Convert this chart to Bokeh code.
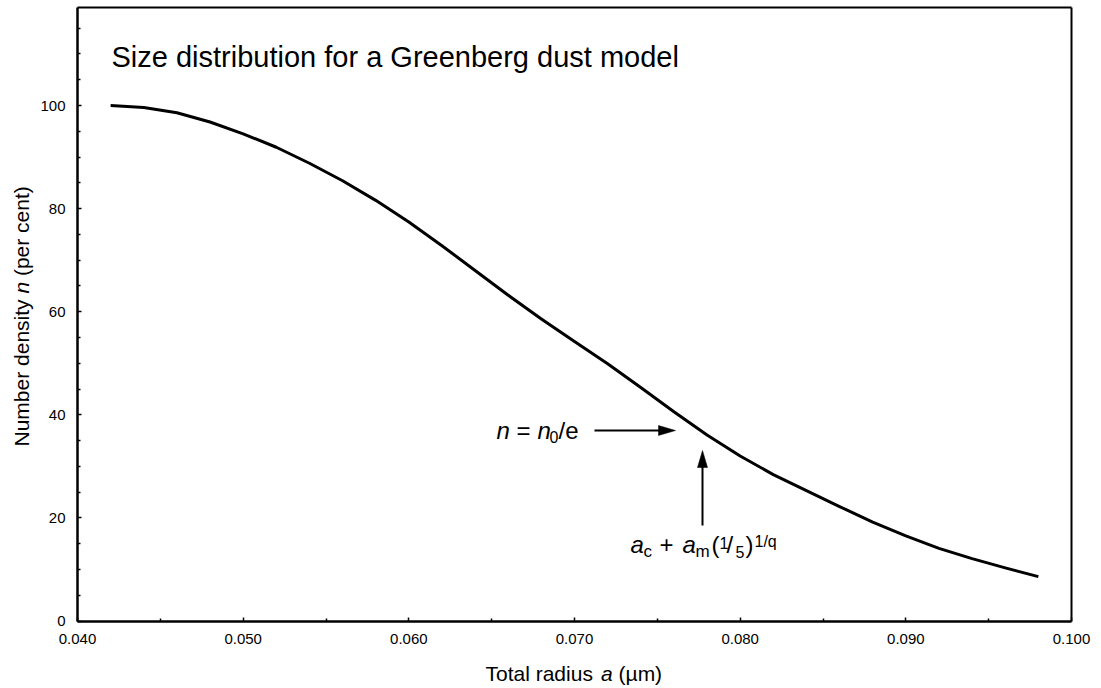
from bokeh.plotting import figure
from bokeh.models import Range1d, FixedTicker, Label, NumeralTickFormatter, LinearAxis
from bokeh.embed import file_html
from bokeh.resources import INLINE
import math

# ---------------- data ----------------
radius = [0.042, 0.044, 0.046, 0.048, 0.050, 0.052, 0.054, 0.056, 0.058, 0.060,
          0.062, 0.064, 0.066, 0.068, 0.070, 0.072, 0.074, 0.076, 0.078, 0.080,
          0.082, 0.084, 0.086, 0.088, 0.090, 0.092, 0.094, 0.096, 0.098]
density = [100.0, 99.6, 98.6, 96.8, 94.5, 91.9, 88.8, 85.4, 81.6, 77.4,
           72.8, 68.0, 63.2, 58.6, 54.2, 49.9, 45.3, 40.6, 36.1, 32.0,
           28.4, 25.3, 22.2, 19.2, 16.5, 14.1, 12.1, 10.3, 8.6]

x_ticks = [0.040, 0.050, 0.060, 0.070, 0.080, 0.090, 0.100]
x_minor = [0.045, 0.055, 0.065, 0.075, 0.085, 0.095]
y_ticks = [0, 20, 40, 60, 80, 100]
y_minor = [5, 10, 15, 25, 30, 35, 45, 50, 55, 65, 70, 75, 85, 90, 95, 105, 110, 115]

x_lo, x_hi = 0.040, 0.100
y_lo, y_hi = 0, 119

title_text = "Size distribution for a Greenberg dust model"

# ---------------- layout (pixels) ----------------
FONT = "Liberation Sans"
W, H = 1101, 688
PL, PR = 77, 1071          # x pixel of x_lo / x_hi
PB, P100 = 620.5, 105      # y pixel of 0 / 100
SX = (PR - PL) / (x_hi - x_lo)
SY = (PB - P100) / 100.0
BASE_FIX = 0.34            # label baseline correction (fraction of font size)


def ax(px):
    return x_lo + (px - PL) / SX


def ay(py):
    return (PB - py) / SY


p = figure(width=W, height=H, output_backend="svg", toolbar_location=None,
           x_range=Range1d(ax(0), ax(W)), y_range=Range1d(ay(H), ay(0)),
           min_border=0)
p.background_fill_color = "white"
p.border_fill_color = "white"
p.xgrid.visible = False
p.ygrid.visible = False
p.outline_line_color = None

xa, ya = p.xaxis[0], p.yaxis[0]
xa.fixed_location = y_lo
ya.fixed_location = x_lo
xa.bounds = (x_lo, x_hi)
ya.bounds = (y_lo, y_hi)

for axis in (xa, ya):
    axis.axis_line_width = 2.5
    axis.axis_line_color = "black"
    axis.major_tick_in = 4
    axis.major_tick_out = 0
    axis.minor_tick_in = 3
    axis.minor_tick_out = 0
    axis.major_tick_line_width = 1.5
    axis.minor_tick_line_width = 1.5
    axis.major_tick_line_color = "black"
    axis.minor_tick_line_color = "black"
    axis.major_label_text_font = FONT
    axis.major_label_text_font_size = "15px"
    axis.major_label_text_color = "black"

xa.ticker = FixedTicker(ticks=x_ticks, minor_ticks=x_minor)
xa.formatter = NumeralTickFormatter(format="0.000")
xa.major_label_standoff = 13
ya.ticker = FixedTicker(ticks=y_ticks, minor_ticks=y_minor)
ya.major_label_standoff = 12

# top and right frame lines as bare axes
for place, loc, bnds, lw in (("above", y_hi, (x_lo, x_hi), 1.8),
                             ("right", x_hi, (y_lo, y_hi), 2.0)):
    b = LinearAxis(fixed_location=loc, bounds=bnds,
                   ticker=FixedTicker(ticks=[], minor_ticks=[]),
                   axis_line_width=lw, axis_line_color="black",
                   major_tick_line_color=None, minor_tick_line_color=None,
                   major_label_text_font_size="0px")
    p.add_layout(b, place)

# ---------------- curve ----------------
p.line(radius, density, line_width=3, line_color="black", line_join="round")


def lab(px, py, text, size, style="normal", angle=0.0):
    if angle:
        px = px - BASE_FIX * size
    else:
        py = py - BASE_FIX * size
    p.add_layout(Label(x=ax(px), y=ay(py), text=text,
                       text_font=FONT, text_font_size=f"{size}px",
                       text_font_style=style, text_color="black",
                       text_baseline="alphabetic", text_align="left",
                       angle=angle))


# title
lab(111, 66, title_text, 29)

# x axis label: "Total radius a (µm)"
xl, xb = 485, 680
sp21 = 0.278 * 21
lab(xl, xb, "Total radius", 21)
lab(xl + 115.5, xb, "a", 21, "italic")
lab(xl + 127.2 + sp21, xb, "(\u00b5m)", 21)

# y axis label: "Number density n (per cent)" rotated
yb, yx = 446, 28
lab(yx, yb, "Number density", 21, angle=math.pi / 2)
lab(yx, yb - 152.9, "n", 21, "italic", angle=math.pi / 2)
lab(yx, yb - 164.6 - sp21, "(per cent)", 21, angle=math.pi / 2)

# annotation 1: n = n0/e
a1x, a1y = 496, 438
lab(a1x, a1y, "n", 24, "italic")
lab(a1x + 20, a1y, "=", 24)
lab(a1x + 41, a1y, "n", 24, "italic")
lab(a1x + 53, a1y + 4, "0", 16)
lab(a1x + 62, a1y, "/e", 24)

# annotation 2: a_c + a_m(1/5)^(1/q)
a2x, a2y = 630, 552
lab(a2x, a2y, "a", 24, "italic")
lab(a2x + 13, a2y + 5, "c", 17)
lab(a2x + 29, a2y, "+", 24)
lab(a2x + 52, a2y, "a", 24, "italic")
lab(a2x + 65, a2y + 5, "m", 17)
lab(a2x + 81, a2y, "(", 24)
lab(a2x + 89, a2y - 4, "1", 16)
lab(a2x + 96, a2y, "/", 24)
lab(a2x + 105, a2y + 5, "5", 16)
lab(a2x + 115, a2y, ")", 24)
lab(a2x + 124, a2y - 6, "1/q", 16)

# arrows (pixels)
HEAD_L, HEAD_W = 17, 5
h_x0, h_x1, h_y = 594, 675, 430
p.segment(x0=[ax(h_x0)], y0=[ay(h_y)], x1=[ax(h_x1 - HEAD_L + 1)], y1=[ay(h_y)],
          line_width=2, line_color="black")
p.patch([ax(h_x1), ax(h_x1 - HEAD_L), ax(h_x1 - HEAD_L)],
        [ay(h_y), ay(h_y - HEAD_W), ay(h_y + HEAD_W)],
        fill_color="black", line_color="black", line_width=0.5)
v_x, v_y0, v_y1 = 702, 525, 450
p.segment(x0=[ax(v_x)], y0=[ay(v_y0)], x1=[ax(v_x)], y1=[ay(v_y1 + HEAD_L - 1)],
          line_width=2, line_color="black")
p.patch([ax(v_x), ax(v_x - HEAD_W), ax(v_x + HEAD_W)],
        [ay(v_y1), ay(v_y1 + HEAD_L), ay(v_y1 + HEAD_L)],
        fill_color="black", line_color="black", line_width=0.5)

open("out.html", "w").write(file_html(p, INLINE))
